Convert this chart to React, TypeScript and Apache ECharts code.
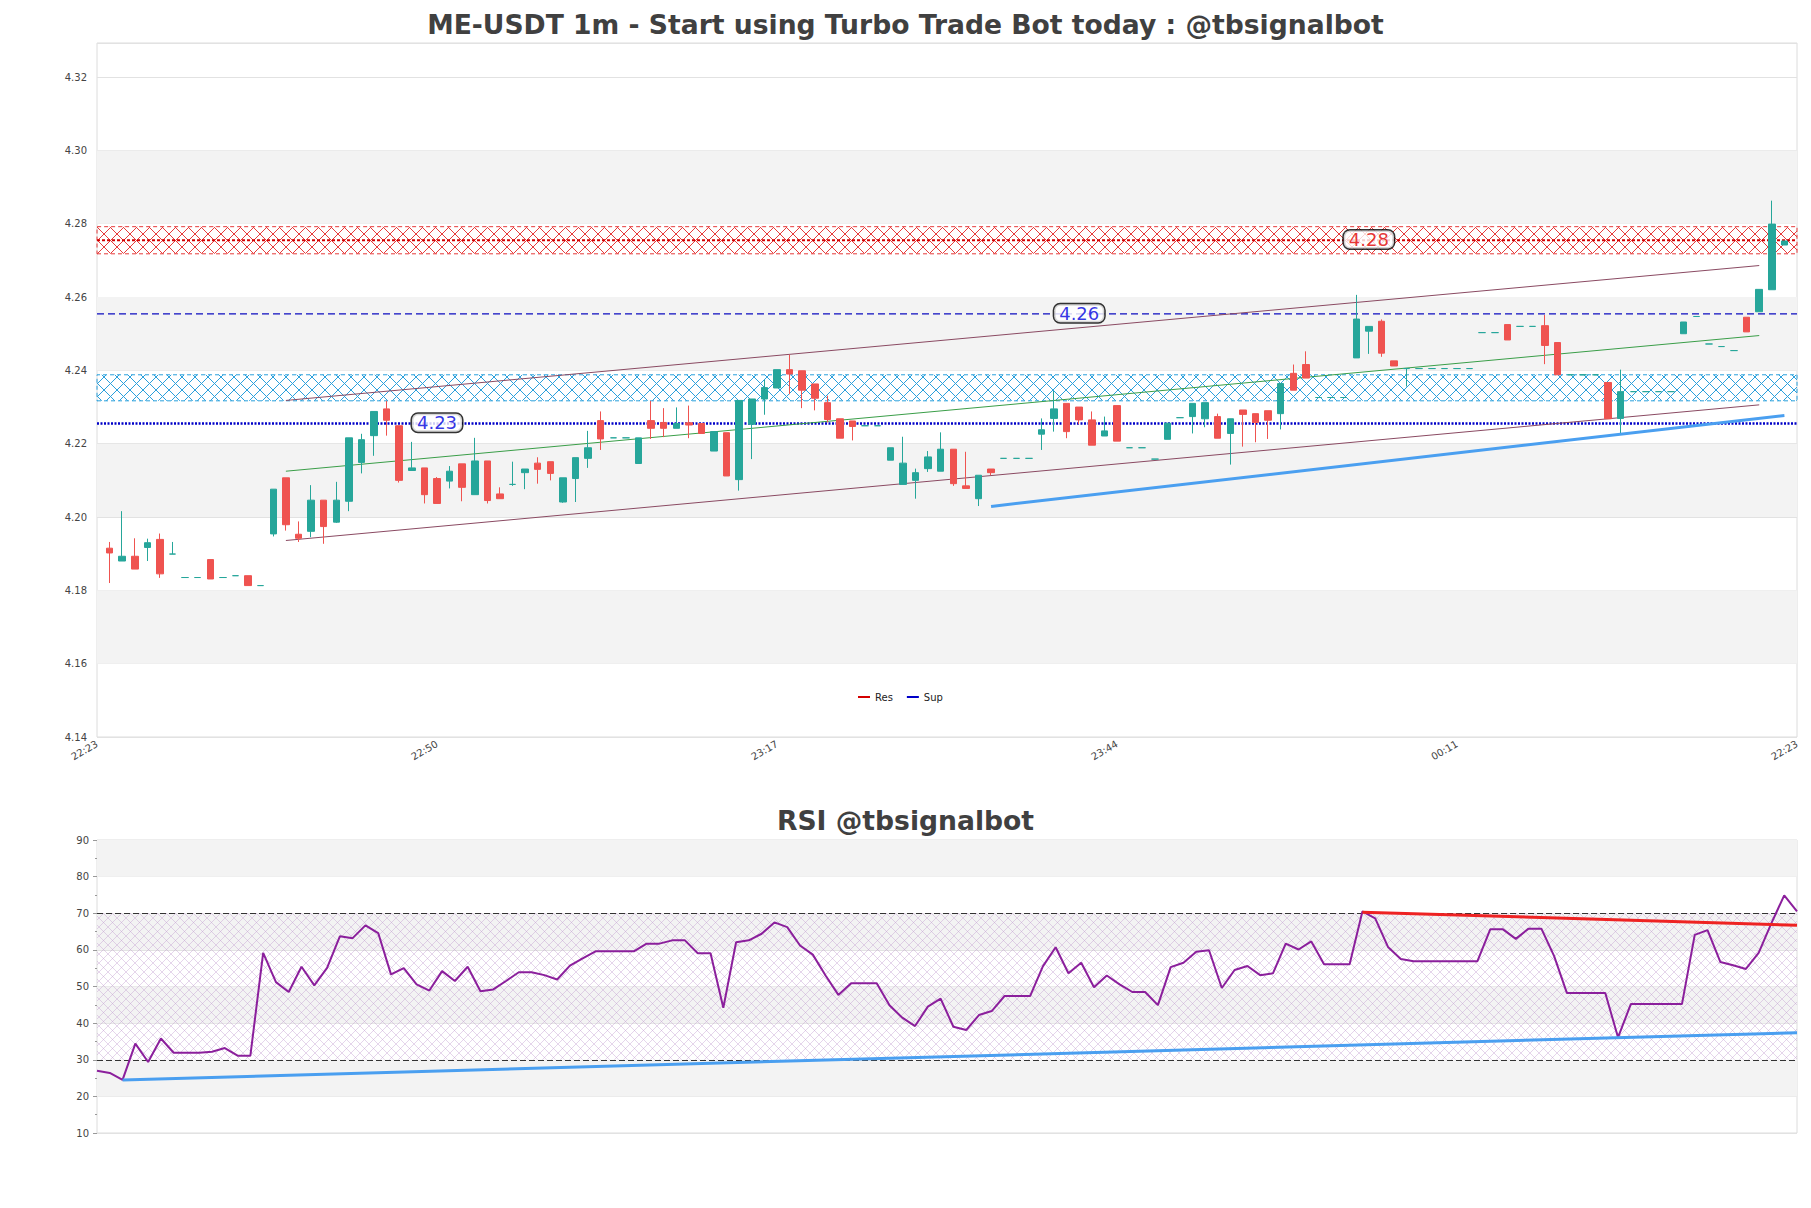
import React, { useEffect, useRef } from 'react';
import * as echarts from 'echarts';

// ---------- data ----------
const xTickLabels = ['22:23', '22:50', '23:17', '23:44', '00:11', '22:23'];
const xTickStep = 27;
const slotCount = 136; // price panel x slots 0..135, candles occupy 1..134

// [open, close, low, high]
const ohlc: number[][] = [
  [4.1915, 4.1902, 4.1820, 4.1932],
  [4.1880, 4.1893, 4.1880, 4.2016],
  [4.1893, 4.1858, 4.1858, 4.1942],
  [4.1917, 4.1930, 4.1880, 4.1941],
  [4.1939, 4.1845, 4.1834, 4.1955],
  [4.1899, 4.1899, 4.1899, 4.1932],
  [4.1835, 4.1835, 4.1835, 4.1835],
  [4.1835, 4.1835, 4.1835, 4.1835],
  [4.1884, 4.1831, 4.1831, 4.1884],
  [4.1835, 4.1835, 4.1835, 4.1835],
  [4.1840, 4.1840, 4.1840, 4.1840],
  [4.1840, 4.1813, 4.1813, 4.1840],
  [4.1813, 4.1813, 4.1813, 4.1813],
  [4.1954, 4.2076, 4.1947, 4.2076],
  [4.2107, 4.1979, 4.1963, 4.2107],
  [4.1953, 4.1942, 4.1932, 4.1988],
  [4.1961, 4.2046, 4.1945, 4.2087],
  [4.2046, 4.1974, 4.1927, 4.2046],
  [4.1986, 4.2046, 4.1984, 4.2096],
  [4.2043, 4.2216, 4.2016, 4.2216],
  [4.2149, 4.2211, 4.2119, 4.2227],
  [4.2222, 4.2288, 4.2167, 4.2288],
  [4.2295, 4.2264, 4.2222, 4.2317],
  [4.2249, 4.2100, 4.2094, 4.2249],
  [4.2127, 4.2134, 4.2127, 4.2205],
  [4.2134, 4.2061, 4.2037, 4.2134],
  [4.2105, 4.2037, 4.2037, 4.2109],
  [4.2098, 4.2125, 4.2078, 4.2139],
  [4.2145, 4.2081, 4.2043, 4.2145],
  [4.2061, 4.2153, 4.2061, 4.2216],
  [4.2153, 4.2045, 4.2037, 4.2153],
  [4.2063, 4.2050, 4.2050, 4.2081],
  [4.2089, 4.2089, 4.2085, 4.2151],
  [4.2121, 4.2131, 4.2076, 4.2131],
  [4.2147, 4.2130, 4.2091, 4.2163],
  [4.2151, 4.2119, 4.2100, 4.2151],
  [4.2041, 4.2107, 4.2039, 4.2107],
  [4.2105, 4.2162, 4.2041, 4.2162],
  [4.2160, 4.2189, 4.2134, 4.2235],
  [4.2263, 4.2213, 4.2183, 4.2288],
  [4.2216, 4.2216, 4.2216, 4.2216],
  [4.2216, 4.2216, 4.2216, 4.2216],
  [4.2146, 4.2216, 4.2146, 4.2216],
  [4.2263, 4.2242, 4.2213, 4.2317],
  [4.2258, 4.2242, 4.2218, 4.2297],
  [4.2242, 4.2255, 4.2242, 4.2299],
  [4.2257, 4.2251, 4.2215, 4.2304],
  [4.2255, 4.2228, 4.2228, 4.2255],
  [4.2180, 4.2233, 4.2180, 4.2233],
  [4.2230, 4.2112, 4.2112, 4.2230],
  [4.2102, 4.2318, 4.2072, 4.2318],
  [4.2253, 4.2322, 4.2158, 4.2322],
  [4.2322, 4.2353, 4.2279, 4.2374],
  [4.2352, 4.2402, 4.2352, 4.2402],
  [4.2402, 4.2390, 4.2335, 4.2443],
  [4.2399, 4.2346, 4.2297, 4.2399],
  [4.2363, 4.2324, 4.2291, 4.2363],
  [4.2312, 4.2266, 4.2258, 4.2331],
  [4.2268, 4.2215, 4.2215, 4.2268],
  [4.2262, 4.2247, 4.2209, 4.2262],
  [4.2249, 4.2249, 4.2249, 4.2249],
  [4.2249, 4.2249, 4.2249, 4.2249],
  [4.2155, 4.2189, 4.2155, 4.2189],
  [4.2089, 4.2147, 4.2089, 4.2219],
  [4.2100, 4.2121, 4.2050, 4.2132],
  [4.2132, 4.2164, 4.2123, 4.2180],
  [4.2125, 4.2185, 4.2125, 4.2231],
  [4.2185, 4.2091, 4.2085, 4.2185],
  [4.2085, 4.2078, 4.2078, 4.2178],
  [4.2050, 4.2114, 4.2030, 4.2114],
  [4.2131, 4.2121, 4.2114, 4.2131],
  [4.2160, 4.2160, 4.2160, 4.2160],
  [4.2160, 4.2160, 4.2160, 4.2160],
  [4.2160, 4.2160, 4.2160, 4.2160],
  [4.2226, 4.2238, 4.2183, 4.2269],
  [4.2269, 4.2295, 4.2233, 4.2344],
  [4.2310, 4.2233, 4.2215, 4.2310],
  [4.2300, 4.2265, 4.2253, 4.2300],
  [4.2265, 4.2196, 4.2196, 4.2288],
  [4.2221, 4.2235, 4.2221, 4.2274],
  [4.2304, 4.2207, 4.2207, 4.2304],
  [4.2189, 4.2189, 4.2189, 4.2189],
  [4.2189, 4.2189, 4.2189, 4.2189],
  [4.2158, 4.2158, 4.2158, 4.2158],
  [4.2212, 4.2256, 4.2212, 4.2256],
  [4.2271, 4.2271, 4.2271, 4.2271],
  [4.2274, 4.2310, 4.2228, 4.2310],
  [4.2268, 4.2312, 4.2245, 4.2312],
  [4.2274, 4.2215, 4.2215, 4.2282],
  [4.2228, 4.2268, 4.2143, 4.2268],
  [4.2292, 4.2280, 4.2192, 4.2292],
  [4.2282, 4.2258, 4.2204, 4.2282],
  [4.2290, 4.2264, 4.2213, 4.2290],
  [4.2282, 4.2364, 4.2239, 4.2364],
  [4.2392, 4.2346, 4.2346, 4.2416],
  [4.2416, 4.2379, 4.2379, 4.2452],
  [4.2326, 4.2326, 4.2326, 4.2326],
  [4.2326, 4.2326, 4.2326, 4.2326],
  [4.2326, 4.2326, 4.2326, 4.2326],
  [4.2434, 4.2540, 4.2434, 4.2606],
  [4.2507, 4.2520, 4.2445, 4.2520],
  [4.2534, 4.2447, 4.2437, 4.2539],
  [4.2426, 4.2412, 4.2412, 4.2426],
  [4.2405, 4.2405, 4.2356, 4.2405],
  [4.2405, 4.2405, 4.2405, 4.2405],
  [4.2405, 4.2405, 4.2405, 4.2405],
  [4.2405, 4.2405, 4.2405, 4.2405],
  [4.2405, 4.2405, 4.2405, 4.2405],
  [4.2405, 4.2405, 4.2405, 4.2405],
  [4.2503, 4.2503, 4.2503, 4.2503],
  [4.2503, 4.2503, 4.2503, 4.2503],
  [4.2525, 4.2483, 4.2483, 4.2525],
  [4.2520, 4.2520, 4.2520, 4.2520],
  [4.2520, 4.2520, 4.2520, 4.2520],
  [4.2522, 4.2468, 4.2417, 4.2551],
  [4.2476, 4.2388, 4.2388, 4.2476],
  [4.2388, 4.2388, 4.2388, 4.2388],
  [4.2388, 4.2388, 4.2388, 4.2388],
  [4.2388, 4.2388, 4.2388, 4.2388],
  [4.2367, 4.2268, 4.2268, 4.2367],
  [4.2269, 4.2342, 4.2226, 4.2402],
  [4.2342, 4.2342, 4.2342, 4.2342],
  [4.2342, 4.2342, 4.2342, 4.2342],
  [4.2342, 4.2342, 4.2342, 4.2342],
  [4.2342, 4.2342, 4.2342, 4.2342],
  [4.2500, 4.2532, 4.2500, 4.2532],
  [4.2547, 4.2547, 4.2547, 4.2547],
  [4.2472, 4.2472, 4.2472, 4.2472],
  [4.2465, 4.2465, 4.2465, 4.2465],
  [4.2454, 4.2454, 4.2454, 4.2454],
  [4.2545, 4.2505, 4.2505, 4.2545],
  [4.2560, 4.2621, 4.2560, 4.2621],
  [4.2620, 4.2799, 4.2620, 4.2863],
  [4.2742, 4.2753, 4.2742, 4.2753],
];

const rsiValues: number[] = [
  27.0, 26.4, 24.5, 34.4, 29.4, 35.8, 31.9, 31.9, 31.9, 32.2,
  33.2, 31.1, 31.1, 59.2, 51.2, 48.5, 55.4, 50.3, 55.1, 63.7,
  63.2, 66.7, 64.6, 53.3, 55.0, 50.6, 48.9, 54.2, 51.5, 55.4,
  48.7, 49.2, 51.5, 53.9, 53.9, 53.1, 51.9, 55.7, 57.7, 59.6,
  59.6, 59.6, 59.6, 61.7, 61.7, 62.6, 62.6, 59.1, 59.1, 44.2,
  62.1, 62.6, 64.4, 67.5, 66.2, 61.2, 58.7, 53.0, 47.7, 50.9,
  50.9, 50.9, 44.9, 41.5, 39.2, 44.5, 46.7, 39.0, 38.1, 42.2,
  43.3, 47.4, 47.4, 47.4, 55.5, 60.7, 53.6, 56.5, 49.8, 53.0,
  50.6, 48.5, 48.5, 44.9, 55.3, 56.5, 59.5, 59.9, 49.6, 54.5,
  55.6, 53.1, 53.6, 61.7, 60.1, 62.3, 56.1, 56.1, 56.1, 70.5,
  68.6, 60.8, 57.5, 56.9, 56.9, 56.9, 56.9, 56.9, 56.9, 65.6,
  65.6, 63.0, 65.8, 65.8, 58.3, 48.2, 48.2, 48.2, 48.2, 36.1,
  45.2, 45.2, 45.2, 45.2, 45.2, 64.1, 65.4, 56.7, 55.8, 54.8,
  59.2, 67.3, 74.9, 70.5,
];

const yTicks = [4.14, 4.16, 4.18, 4.2, 4.22, 4.24, 4.26, 4.28, 4.3, 4.32];
const yMin = 4.14;
const yMax = 4.3293;
const rsiTicks = [10, 20, 30, 40, 50, 60, 70, 80, 90];
const rsiBounds = [30, 70];

const resLevel = 4.2755;
const resZone = [4.2718, 4.2792];
const supLevel = 4.2255;
const supZone = [4.2317, 4.2388];
const midLevel = 4.2554;

const levelLabels = [
  { slot: 101, value: 4.2757, text: '4.28', color: '#e00000' },
  { slot: 78, value: 4.2556, text: '4.26', color: '#0000dd' },
  { slot: 27, value: 4.2257, text: '4.23', color: '#0000dd' },
];

const channelUpper = [[15, 4.2318], [132, 4.2686]];
const channelMid = [[15, 4.2125], [132, 4.2495]];
const channelLower = [[15, 4.1936], [132, 4.2306]];
const supportTrend = [[71, 4.2029], [134, 4.2277]];
const rsiSupportTrend = [[2, 24.5], [133, 37.4]];
const rsiResistTrend = [[99, 70.3], [133, 66.7]];

// ---------- styling ----------
const FONT = 'DejaVu Sans';
const UP = '#26a69a';
const DOWN = '#ef5350';
const BAND = '#f3f3f3';
const GRIDLINE = '#e2e2e2';

function hatch(color: string, size: number, lw: number) {
  const c = document.createElement('canvas');
  c.width = size;
  c.height = size;
  const ctx = c.getContext('2d')!;
  ctx.strokeStyle = color;
  ctx.lineWidth = lw;
  ctx.beginPath();
  ctx.moveTo(0, 0);
  ctx.lineTo(size, size);
  ctx.moveTo(size, 0);
  ctx.lineTo(0, size);
  ctx.stroke();
  return { image: c.toDataURL(), repeat: 'repeat', imageWidth: size, imageHeight: size };
}

export default function App() {
  const ref = useRef<HTMLDivElement>(null);

  useEffect(() => {
    if (!ref.current) return;
    const chart = echarts.init(ref.current, undefined, { renderer: 'svg' });

    const cats = Array.from({ length: slotCount }, (_, i) => String(i));
    const rsiCats = rsiValues.map((_, i) => String(i));

    const empty = ['-', '-', '-', '-'];
    const candleData: any[] = [
      empty,
      ...ohlc.map((d) =>
        d[0] === d[1]
          ? { value: d, itemStyle: { color: UP, color0: UP, borderColor: UP, borderColor0: UP } }
          : d
      ),
      empty,
    ];

    const grayBands = (ticks: number[]) => {
      const out: any[] = [];
      for (let k = 1; k + 1 < ticks.length; k += 2) {
        out.push([{ yAxis: ticks[k], itemStyle: { color: BAND } }, { yAxis: ticks[k + 1] }]);
      }
      return out;
    };

    const lineSeries = (name: string, data: number[][], color: string, width: number, type: any, xi = 0, z = 4) => ({
      name,
      type: 'line',
      xAxisIndex: xi,
      yAxisIndex: xi,
      data,
      symbol: 'none',
      silent: true,
      z,
      itemStyle: { color },
      lineStyle: { color, width, type },
    });

    const option: any = {
      animation: false,
      backgroundColor: '#ffffff',
      textStyle: { fontFamily: FONT },
      title: [
        {
          text: 'ME-USDT 1m - Start using Turbo Trade Bot today : @tbsignalbot',
          left: 'center',
          top: 6,
          textStyle: { fontFamily: FONT, fontSize: 26.6, fontWeight: 'bold', color: '#404040' },
        },
        {
          text: 'RSI @tbsignalbot',
          left: 'center',
          top: 802,
          textStyle: { fontFamily: FONT, fontSize: 26.6, fontWeight: 'bold', color: '#404040' },
        },
      ],
      legend: {
        data: ['Res', 'Sup'],
        left: 853,
        top: 687,
        icon: 'rect',
        itemWidth: 12,
        itemHeight: 2,
        itemGap: 14,
        lineStyle: { type: 'solid', width: 2 },
        textStyle: { fontFamily: FONT, fontSize: 10, color: '#222' },
        selectedMode: false,
      },
      grid: [
        { left: 97, top: 43, width: 1700, height: 694, show: true, borderColor: '#dcdcdc', borderWidth: 1 },
        { left: 97, top: 840, width: 1700, height: 293, show: true, borderColor: '#dcdcdc', borderWidth: 1 },
      ],
      xAxis: [
        {
          type: 'category',
          gridIndex: 0,
          data: cats,
          boundaryGap: false,
          axisLine: { show: false },
          axisTick: { show: false },
          splitLine: { show: false },
          axisLabel: {
            interval: (index: number) => index % xTickStep === 0,
            formatter: (_v: string, index: number) => xTickLabels[Math.round(index / xTickStep)] ?? '',
            rotate: 30,
            fontSize: 10,
            color: '#444',
            margin: 6,
            fontFamily: FONT,
            showMaxLabel: true,
            showMinLabel: true,
          },
        },
        {
          type: 'category',
          gridIndex: 1,
          data: rsiCats,
          boundaryGap: false,
          axisLine: { show: false },
          axisTick: { show: false },
          axisLabel: { show: false },
          splitLine: { show: false },
        },
      ],
      yAxis: [
        {
          type: 'value',
          gridIndex: 0,
          min: yMin,
          max: yMax,
          interval: 0.02,
          axisLine: { show: false },
          axisTick: { show: false },
          splitLine: { show: true, lineStyle: { color: GRIDLINE, width: 1 } },
          axisLabel: {
            fontSize: 10,
            color: '#444',
            margin: 10,
            fontFamily: FONT,
            formatter: (v: number) => (yTicks.some((t) => Math.abs(t - v) < 1e-6) ? v.toFixed(2) : ''),
          },
        },
        {
          type: 'value',
          gridIndex: 1,
          min: 10,
          max: 90,
          interval: 10,
          axisLine: { show: false },
          axisTick: { show: true, length: 4, lineStyle: { color: '#999' } },
          minorTick: { show: true, splitNumber: 2, length: 2, lineStyle: { color: '#999' } },
          splitLine: { show: true, lineStyle: { color: GRIDLINE, width: 1 } },
          axisLabel: { fontSize: 10, color: '#444', margin: 8, fontFamily: FONT },
        },
      ],
      series: [
        {
          name: 'candles',
          type: 'candlestick',
          xAxisIndex: 0,
          yAxisIndex: 0,
          data: candleData,
          barWidth: 7,
          z: 5,
          silent: true,
          itemStyle: { color: UP, color0: DOWN, borderColor: UP, borderColor0: DOWN, borderWidth: 1 },
          markArea: { silent: true, z: 1, label: { show: false }, data: grayBands(yTicks) },
        },
        {
          ...lineSeries('Res', [[0, resLevel], [slotCount - 1, resLevel]], '#d40000', 2, [3, 2]),
          markArea: {
            silent: true,
            z: 2,
            label: { show: false },
            itemStyle: {
              color: hatch('#e63b3b', 13, 1),
              borderColor: '#e63b3b',
              borderWidth: 1,
              borderType: [4, 3],
            },
            data: [[{ yAxis: resZone[0] }, { yAxis: resZone[1] }]],
          },
        },
        {
          ...lineSeries('Sup', [[0, supLevel], [slotCount - 1, supLevel]], '#0000c8', 2.5, [2, 1.5]),
          markArea: {
            silent: true,
            z: 2,
            label: { show: false },
            itemStyle: {
              color: hatch('#2aa0dc', 13, 1),
              borderColor: '#2aa0dc',
              borderWidth: 1,
              borderType: [4, 3],
            },
            data: [[{ yAxis: supZone[0] }, { yAxis: supZone[1] }]],
          },
        },
        lineSeries('mid', [[0, midLevel], [slotCount - 1, midLevel]], '#0c0cc0', 1.2, [7, 4]),
        lineSeries('chanUp', channelUpper, '#8a4a62', 1, 'solid'),
        lineSeries('chanMid', channelMid, '#3a9e48', 1, 'solid'),
        lineSeries('chanLow', channelLower, '#8a4a62', 1, 'solid'),
        lineSeries('supTrend', supportTrend, '#4a9ff0', 3, 'solid', 0, 6),
        {
          name: 'levelLabels',
          type: 'scatter',
          xAxisIndex: 0,
          yAxisIndex: 0,
          symbol: 'rect',
          symbolSize: 1,
          silent: true,
          z: 10,
          itemStyle: { color: 'rgba(0,0,0,0)' },
          data: levelLabels.map((l) => ({
            value: [l.slot, l.value],
            label: {
              show: true,
              position: 'inside',
              formatter: l.text,
              color: l.color,
              fontSize: 18,
              fontFamily: FONT,
              backgroundColor: '#ffffff',
              borderColor: '#000000',
              borderWidth: 1.5,
              borderRadius: 6,
              padding: [0, 5],
              lineHeight: 18,
            },
          })),
        },
        {
          name: 'RSI',
          type: 'line',
          xAxisIndex: 1,
          yAxisIndex: 1,
          data: rsiValues,
          symbol: 'none',
          silent: true,
          z: 5,
          lineStyle: { color: '#8b1f9c', width: 2 },
          itemStyle: { color: '#8b1f9c' },
          markArea: {
            silent: true,
            z: 1,
            label: { show: false },
            data: [
              ...grayBands(rsiTicks),
              [
                { yAxis: rsiBounds[0], itemStyle: { color: hatch('rgba(190,150,205,0.4)', 9, 1) } },
                { yAxis: rsiBounds[1] },
              ],
            ],
          },
          markLine: {
            silent: true,
            symbol: ['none', 'none'],
            label: { show: false },
            lineStyle: { color: '#333333', width: 1, type: [6, 3] },
            data: rsiBounds.map((v) => ({ yAxis: v })),
          },
        },
        lineSeries('rsiSup', rsiSupportTrend, '#4a9ff0', 3, 'solid', 1, 6),
        lineSeries('rsiRes', rsiResistTrend, '#ee2222', 3, 'solid', 1, 6),
      ],
    };

    chart.setOption(option);
    return () => chart.dispose();
  }, []);

  return (
    <div
      ref={ref}
      style={{ position: 'fixed', left: 0, top: 0, width: 1811, height: 1208, background: '#ffffff' }}
    />
  );
}
